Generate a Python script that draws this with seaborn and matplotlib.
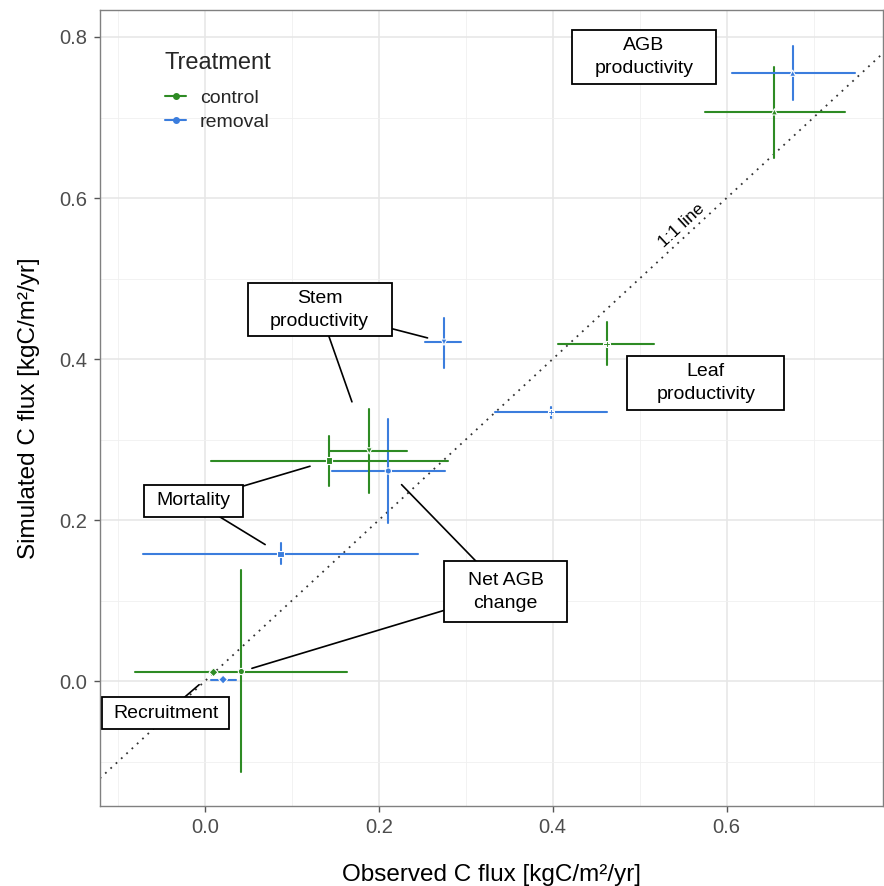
import numpy as np
import pandas as pd
import matplotlib
matplotlib.use("Agg")
import matplotlib.pyplot as plt
from matplotlib.lines import Line2D
from matplotlib.patches import Rectangle
from matplotlib.transforms import IdentityTransform
import seaborn as sns

# ---------------- data ----------------
variables = ["AGB productivity", "AGB productivity",
             "Leaf productivity", "Leaf productivity",
             "Mortality", "Mortality",
             "Net AGB change", "Net AGB change",
             "Recruitment", "Recruitment",
             "Stem productivity", "Stem productivity"]
treatment = ["control", "removal"] * 6
obs = [0.655, 0.676, 0.462, 0.398, 0.143, 0.087, 0.042, 0.211, 0.010, 0.021, 0.189, 0.275]
obs_lo = [0.575, 0.606, 0.406, 0.334, 0.007, -0.071, -0.080, 0.146, 0.004, 0.007, 0.144, 0.253]
obs_hi = [0.736, 0.748, 0.517, 0.462, 0.280, 0.245, 0.164, 0.276, 0.016, 0.036, 0.232, 0.295]
sim = [0.707, 0.755, 0.419, 0.334, 0.274, 0.158, 0.012, 0.261, 0.011, 0.002, 0.286, 0.421]
sim_lo = [0.650, 0.722, 0.393, 0.327, 0.242, 0.145, -0.113, 0.197, 0.008, -0.001, 0.234, 0.389]
sim_hi = [0.763, 0.789, 0.446, 0.340, 0.304, 0.171, 0.138, 0.326, 0.014, 0.005, 0.338, 0.451]

# label box positions (data coords, layout) and box sizes (pixels, layout)
label_pos = {"AGB productivity": (0.505, 0.775),
             "Leaf productivity": (0.576, 0.370),
             "Mortality": (-0.013, 0.224),
             "Net AGB change": (0.346, 0.111),
             "Recruitment": (-0.045, -0.040),
             "Stem productivity": (0.132, 0.461)}
box_size = {"AGB productivity": (144, 54),
            "Leaf productivity": (157, 54),
            "Mortality": (99, 32),
            "Net AGB change": (123, 61),
            "Recruitment": (127, 32),
            "Stem productivity": (144, 53)}
label_text = {"AGB productivity": "AGB\nproductivity",
              "Leaf productivity": "Leaf\nproductivity",
              "Mortality": "Mortality",
              "Net AGB change": "Net AGB\nchange",
              "Recruitment": "Recruitment",
              "Stem productivity": "Stem\nproductivity"}
# (variable, treatment, gap in px left before the point)
connectors = [("Mortality", "control", 20), ("Mortality", "removal", 18),
              ("Net AGB change", "control", 11), ("Net AGB change", "removal", 19),
              ("Recruitment", "control", 19),
              ("Stem productivity", "control", 52), ("Stem productivity", "removal", 17)]

df = pd.DataFrame({"variable": variables, "Treatment": treatment,
                   "obs": obs, "obs_lo": obs_lo, "obs_hi": obs_hi,
                   "sim": sim, "sim_lo": sim_lo, "sim_hi": sim_hi})

palette = {"control": "#2e8b24", "removal": "#3b7ddd"}
markers = {"AGB productivity": "^", "Leaf productivity": "P", "Mortality": "s",
           "Net AGB change": "o", "Recruitment": "D", "Stem productivity": "v"}

# ---------------- figure ----------------
sns.set_theme(style="whitegrid")
plt.rcParams["font.family"] = ["Liberation Sans", "DejaVu Sans"]

fig = plt.figure(figsize=(8.84, 8.86), dpi=100)
ax = fig.add_axes([0.113, 0.0903, 0.886, 0.8984])

xlim = (-0.1207, 0.780)
ylim = (-0.155, 0.8335)
ax.set_xlim(*xlim)
ax.set_ylim(*ylim)

# 1:1 line
ax.plot([xlim[0], xlim[1]], [xlim[0], xlim[1]], ls=(0, (1, 3)), color="#333333", lw=1.3, zorder=1)
ax.text(0.548, 0.566, "1:1 line", rotation=42.8, rotation_mode="anchor",
        ha="center", va="center", fontsize=12.5, color="black", zorder=2)

# error bars
for _, r in df.iterrows():
    c = palette[r["Treatment"]]
    ax.plot([r["obs_lo"], r["obs_hi"]], [r["sim"], r["sim"]], color=c, lw=1.5, zorder=3)
    ax.plot([r["obs"], r["obs"]], [r["sim_lo"], r["sim_hi"]], color=c, lw=1.5, zorder=3)

# points
sns.scatterplot(data=df, x="obs", y="sim", hue="Treatment", style="variable",
                palette=palette, markers=markers, s=20, linewidth=0.8,
                legend=False, ax=ax, zorder=4)

# labels with boxes (box drawn in pixel space around data-anchored centre)
T = ax.transData
for v, (lx, ly) in label_pos.items():
    cx, cy = T.transform((lx, ly))
    w, h = box_size[v]
    rect = Rectangle((cx - w / 2, cy - h / 2), w, h, transform=IdentityTransform(),
                     fc="white", ec="black", lw=1.3, zorder=6, clip_on=False)
    ax.add_patch(rect)
    ax.text(lx, ly, label_text[v], ha="center", va="center", fontsize=14,
            color="black", zorder=7, linespacing=1.5)

# connectors: from box edge toward the point
inv = T.inverted()
for v, t, gap in connectors:
    row = df[(df["variable"] == v) & (df["Treatment"] == t)].iloc[0]
    cx, cy = T.transform(label_pos[v])
    px, py = T.transform((row["obs"], row["sim"]))
    w, h = box_size[v]
    dx, dy = px - cx, py - cy
    d = np.hypot(dx, dy)
    ux, uy = dx / d, dy / d
    s = min((w / 2) / abs(ux) if ux != 0 else np.inf, (h / 2) / abs(uy) if uy != 0 else np.inf)
    start = inv.transform((cx + ux * s, cy + uy * s))
    end = inv.transform((px - ux * gap, py - uy * gap))
    ax.plot([start[0], end[0]], [start[1], end[1]], color="black", lw=1.2, zorder=5)

# axes styling (ggplot theme_bw-like)
ax.set_xticks([0.0, 0.2, 0.4, 0.6])
ax.set_yticks([0.0, 0.2, 0.4, 0.6, 0.8])
ax.set_xticks([-0.1, 0.1, 0.3, 0.5, 0.7], minor=True)
ax.set_yticks([-0.1, 0.1, 0.3, 0.5, 0.7], minor=True)
ax.set_xticklabels(["0.0", "0.2", "0.4", "0.6"])
ax.set_yticklabels(["0.0", "0.2", "0.4", "0.6", "0.8"])
ax.grid(which="major", color="#e6e6e6", lw=1.1)
ax.grid(which="minor", color="#f0f0f0", lw=0.6)
ax.set_facecolor("white")
for s_ in ax.spines.values():
    s_.set_color("#808080")
    s_.set_linewidth(1.0)
ax.tick_params(axis="both", which="major", length=4, width=1, color="#555555",
               labelsize=14.5, labelcolor="#4d4d4d", pad=5, direction="out",
               bottom=True, left=True)
ax.tick_params(which="minor", length=0)
ax.set_xlabel("Observed C flux [kgC/m²/yr]", fontsize=17.5, color="black", labelpad=19)
ax.set_ylabel("Simulated C flux [kgC/m²/yr]", fontsize=17.5, color="black", labelpad=14)

# legend
handles = [Line2D([0], [0], color=palette[t], marker="o", markersize=4, lw=1.5, label=t)
           for t in ["control", "removal"]]
leg = ax.legend(handles=handles, title="Treatment", loc="upper left",
                bbox_to_anchor=(0.083, 0.947), frameon=False, fontsize=14,
                title_fontsize=17, handlelength=1.1, handletextpad=0.7,
                labelspacing=0.3, borderpad=0, borderaxespad=0)
leg._legend_box.align = "left"
leg._legend_box.sep = 11

fig.savefig("out.png", dpi=100)
